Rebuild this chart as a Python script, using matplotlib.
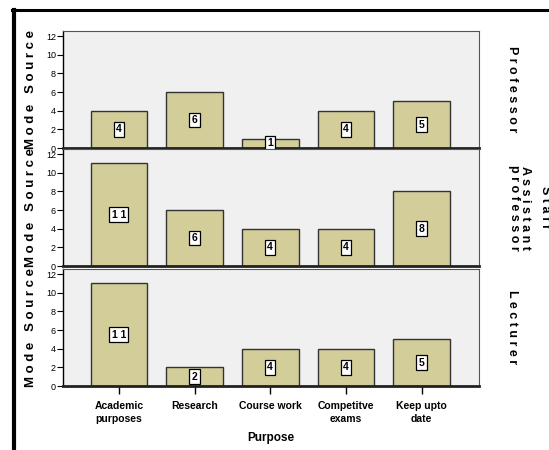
import matplotlib
matplotlib.use("Agg")
import matplotlib.pyplot as plt
from matplotlib.lines import Line2D

plt.rcParams['font.family'] = ['Liberation Sans', 'DejaVu Sans']

purposes = ["Academic\npurposes", "Research", "Course work", "Competitve\nexams", "Keep upto\ndate"]
staff = ["P r o f e s s o r", "A s s i s t a n t\np r o f e s s o r", "L e c t u r e r"]
professor = [4, 6, 1, 4, 5]
asst_professor = [11, 6, 4, 4, 8]
lecturer = [11, 2, 4, 4, 5]
counts = [professor, asst_professor, lecturer]
yticks = [0, 2, 4, 6, 8, 10, 12]

W, H = 549, 450
fig = plt.figure(figsize=(W / 100, H / 100), dpi=100)

# panel rows in pixels (top, bottom)
rows = [(31, 148), (149, 266), (269, 386)]
left, right = 63, 479

x = list(range(len(purposes)))
for i, (top, bot) in enumerate(rows):
    ax = fig.add_axes([left / W, 1 - bot / H, (right - left) / W, (bot - top) / H])
    ax.set_facecolor('#f0f0f0')
    vals = counts[i]
    ax.bar(x, vals, width=0.75, color='#d3ce99', edgecolor='#333333', linewidth=1.0, zorder=2)
    for xi, v in zip(x, vals):
        ax.text(xi, v / 2, " ".join(str(v)), ha='center', va='center', fontsize=7.5,
                fontweight='bold',
                bbox=dict(boxstyle='square,pad=0.22', fc='white', ec='black', lw=0.9), zorder=3)
    ax.set_xlim(-0.74, 4.76)
    ax.set_ylim(0, 12.54)
    ax.set_yticks(yticks)
    ax.tick_params(axis='y', labelsize=6.5, length=4, width=0.8, pad=1, direction='out')
    for s in ['top', 'right']:
        ax.spines[s].set_color('#555555')
        ax.spines[s].set_linewidth(0.8)
    ax.spines['left'].set_color('black')
    ax.spines['left'].set_linewidth(1.0)
    ax.spines['bottom'].set_color('#222222')
    ax.spines['bottom'].set_linewidth(2.0)
    ax.set_ylabel("M o d e   S o u r c e", fontsize=9.5, fontweight='bold')
    ax.yaxis.set_label_coords(-0.062, 0.5)
    xs = 1.098 if "\n" in staff[i] else 1.08
    ax.text(xs, 0.5, staff[i], transform=ax.transAxes, rotation=-90, ha='center', va='center',
            fontsize=9, fontweight='bold', linespacing=0.85)
    if i == len(rows) - 1:
        ax.set_xticks(x)
        ax.set_xticklabels(purposes, fontsize=7.5, fontweight='bold', linespacing=1.3)
        ax.tick_params(axis='x', length=6, width=1.0, pad=5)
        ax.set_xlabel("Purpose", fontsize=8.5, fontweight='bold', labelpad=6)
    else:
        ax.set_xticks([])

# group title on the far right, partly outside the canvas
fig.text(545 / W, 1 - 207 / H, "S t a f f", rotation=-90, ha='center', va='center',
         fontsize=9, fontweight='bold')

# outer frame
fig.add_artist(Line2D([13.5 / W, 13.5 / W], [1 - 9.5 / H, 0], transform=fig.transFigure,
                      color='black', linewidth=3))
fig.add_artist(Line2D([12 / W, 1], [1 - 10 / H, 1 - 10 / H], transform=fig.transFigure,
                      color='black', linewidth=2.2))

fig.savefig("out.png", dpi=100)
